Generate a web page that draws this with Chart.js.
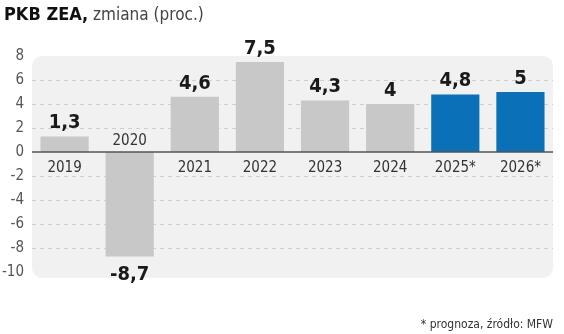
<!DOCTYPE html>
<html>
<head>
<meta charset="utf-8">
<script src="https://cdn.jsdelivr.net/npm/chart.js@4/dist/chart.umd.min.js"></script>
<style>
  html, body { margin: 0; padding: 0; background: #fff; }
  #wrap { width: 564px; height: 334px; position: relative; }
</style>
</head>
<body>
<div id="wrap"><canvas id="gdpChart" width="564" height="334"></canvas></div>
<script>
const years = ['2019', '2020', '2021', '2022', '2023', '2024', '2025*', '2026*'];
const growth = [1.3, -8.7, 4.6, 7.5, 4.3, 4, 4.8, 5];
const forecast = [false, false, false, false, false, false, true, true];
const yTicks = [8, 6, 4, 2, 0, -2, -4, -6, -8, -10];

const NARROW = '"Liberation Sans Narrow", "DejaVu Sans Condensed", sans-serif';
const GREY_BAR = '#c8c8c8';
const BLUE_BAR = '#0a71b8';

const fmt = v => String(v).replace('.', ',');

// panel, dashed grid, zero line and all the text around the bars
const decorations = {
  id: 'decorations',
  beforeDatasetsDraw(chart) {
    const { ctx, chartArea: a, scales: { y } } = chart;
    ctx.save();
    ctx.fillStyle = '#f1f1f1';
    ctx.beginPath();
    ctx.roundRect(a.left, a.top, a.right - a.left, a.bottom - a.top + 6, 10);
    ctx.fill();

    ctx.strokeStyle = '#cfcfcf';
    ctx.lineWidth = 1;
    ctx.setLineDash([4, 4]);
    yTicks.forEach(t => {
      if (t === 0 || t === 8 || t === -10) return;
      const py = Math.round(y.getPixelForValue(t)) + 0.5;
      ctx.beginPath();
      ctx.moveTo(a.left, py);
      ctx.lineTo(a.right, py);
      ctx.stroke();
    });
    ctx.restore();
  },
  afterDatasetsDraw(chart) {
    const { ctx, chartArea: a, scales: { y } } = chart;
    const meta = chart.getDatasetMeta(0);
    const zero = y.getPixelForValue(0);
    ctx.save();

    ctx.strokeStyle = '#555';
    ctx.lineWidth = 1.5;
    ctx.beginPath();
    ctx.moveTo(a.left, zero);
    ctx.lineTo(a.right, zero);
    ctx.stroke();

    ctx.textAlign = 'center';
    meta.data.forEach((bar, i) => {
      const v = growth[i];
      ctx.fillStyle = '#1a1a1a';
      ctx.font = 'bold 20px ' + NARROW;
      if (v >= 0) {
        ctx.textBaseline = 'alphabetic';
        ctx.fillText(fmt(v), bar.x, bar.y - 8);
      } else {
        ctx.textBaseline = 'top';
        ctx.fillText(fmt(v), bar.x, bar.y + 8);
      }
      ctx.fillStyle = '#333';
      ctx.font = '15px ' + NARROW;
      ctx.textBaseline = 'middle';
      ctx.fillText(years[i], bar.x, v >= 0 ? zero + 16 : zero - 11);
    });

    // heading
    ctx.textAlign = 'left';
    ctx.textBaseline = 'alphabetic';
    ctx.fillStyle = '#111';
    ctx.font = 'bold 18px ' + NARROW;
    ctx.fillText('PKB ZEA,', 4, 20);
    const w = ctx.measureText('PKB ZEA,').width;
    ctx.fillStyle = '#444';
    ctx.font = '17px ' + NARROW;
    ctx.fillText(' zmiana (proc.)', 4 + w, 20);

    // footnote
    ctx.textAlign = 'right';
    ctx.font = '12px ' + NARROW;
    ctx.fillStyle = '#333';
    ctx.fillText('* prognoza, źródło: MFW', 553, 328);
    ctx.restore();
  }
};

new Chart(document.getElementById('gdpChart'), {
  type: 'bar',
  data: {
    labels: years,
    datasets: [{
      data: growth,
      backgroundColor: forecast.map(f => f ? BLUE_BAR : GREY_BAR),
      categoryPercentage: 1,
      barPercentage: 0.74,
      borderWidth: 0
    }]
  },
  options: {
    responsive: false,
    animation: false,
    devicePixelRatio: 1,
    layout: { padding: { top: 56, right: 11, bottom: 62, left: 0 } },
    plugins: { legend: { display: false }, tooltip: { enabled: false } },
    scales: {
      x: { display: false },
      y: {
        min: -10,
        max: 8,
        afterFit(scale) { scale.width = 32; },
        afterBuildTicks(scale) { scale.ticks = yTicks.map(v => ({ value: v })); },
        grid: { display: false, drawTicks: false },
        border: { display: false },
        ticks: {
          padding: 8,
          color: '#555',
          font: { family: NARROW, size: 15 },
          callback: v => String(v)
        }
      }
    }
  },
  plugins: [decorations]
});
</script>
</body>
</html>
